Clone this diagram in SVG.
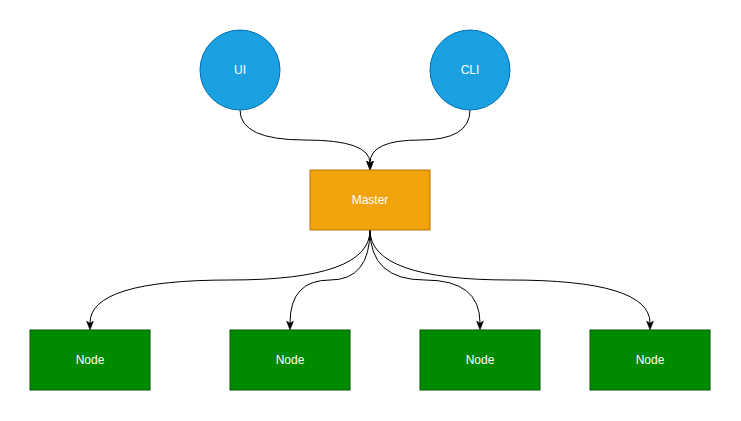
<svg xmlns="http://www.w3.org/2000/svg" width="741" height="421" viewBox="0 0 741 421">
<style>
.lbl{font-family:"Liberation Sans",Arial,Helvetica,sans-serif;font-size:12px;fill:#ffffff;text-anchor:middle;dominant-baseline:central}
.blue{fill:#1ba1e2;stroke:#006eaf;stroke-width:1}
.orange{fill:#f0a30a;stroke:#bd7000;stroke-width:1}
.green{fill:#008a00;stroke:#005700;stroke-width:1}
.edge{fill:none;stroke:#000000;stroke-width:1;marker-end:url(#arrow)}
</style>
<defs>
<marker id="arrow" viewBox="0 0 10 10" refX="2" refY="5" markerWidth="10" markerHeight="10" markerUnits="userSpaceOnUse" orient="auto">
<path d="M0,1.5 L9,5 L0,8.5 L2.2,5 Z" fill="#000000" stroke="#000000" stroke-width="0.5"/>
</marker>
</defs>
<rect width="741" height="421" fill="#ffffff"/>
<g id="connectors">
<path class="edge" d="M240,110 Q240,140 305,140 Q370,140 370,163"/>
<path class="edge" d="M470,110 Q470,140 420,140 Q370,140 370,163"/>
<path class="edge" d="M370,230 Q370,280 230,280 Q90,280 90,323"/>
<path class="edge" d="M370,230 Q370,280 330,280 Q290,280 290,323"/>
<path class="edge" d="M370,230 Q370,280 425,280 Q480,280 480,323"/>
<path class="edge" d="M370,230 Q370,280 510,280 Q650,280 650,323"/>
</g>
<g id="ui"><circle class="blue" cx="240" cy="70" r="40"/><text class="lbl" x="240" y="70">UI</text></g>
<g id="cli"><circle class="blue" cx="470" cy="70" r="40"/><text class="lbl" x="470" y="70">CLI</text></g>
<g id="master"><rect class="orange" x="310" y="170" width="120" height="60"/><text class="lbl" x="370" y="200">Master</text></g>
<g id="node1"><rect class="green" x="30" y="330" width="120" height="60"/><text class="lbl" x="90" y="360">Node</text></g>
<g id="node2"><rect class="green" x="230" y="330" width="120" height="60"/><text class="lbl" x="290" y="360">Node</text></g>
<g id="node3"><rect class="green" x="420" y="330" width="120" height="60"/><text class="lbl" x="480" y="360">Node</text></g>
<g id="node4"><rect class="green" x="590" y="330" width="120" height="60"/><text class="lbl" x="650" y="360">Node</text></g>
</svg>
